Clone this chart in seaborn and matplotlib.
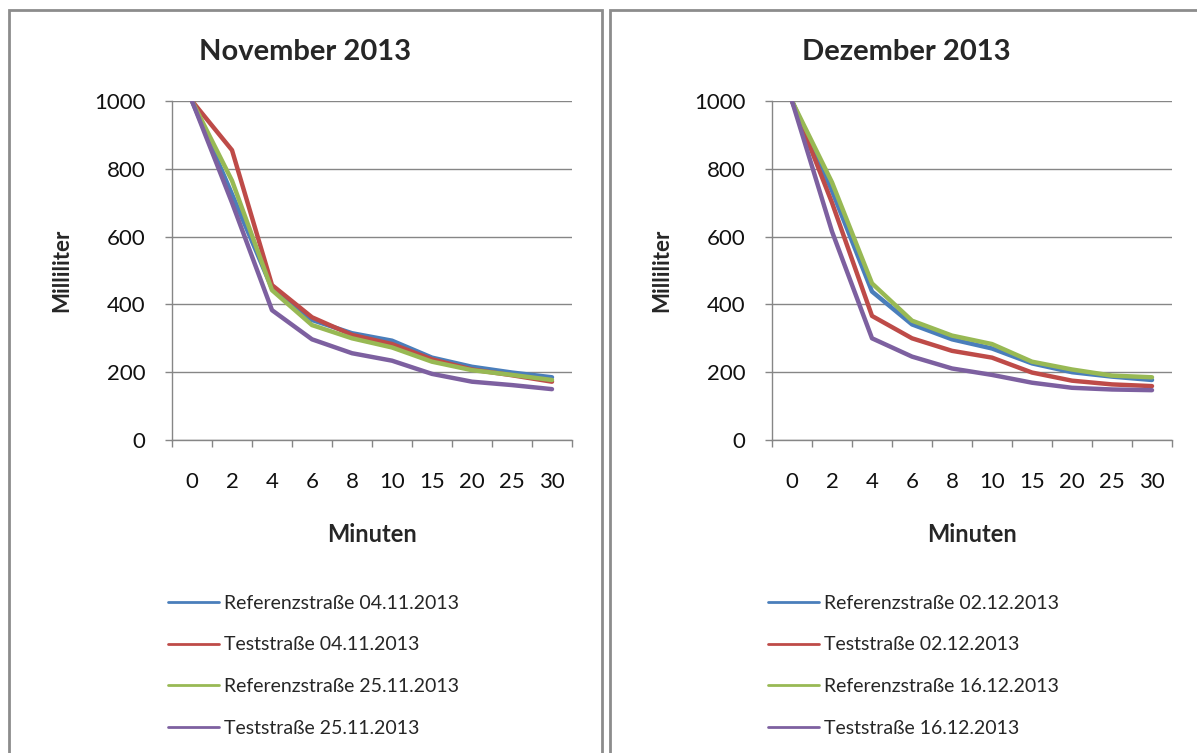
import numpy as np
import pandas as pd
import matplotlib
matplotlib.use("Agg")
import matplotlib.pyplot as plt
from matplotlib.lines import Line2D
from matplotlib.patches import Rectangle
import seaborn as sns

# --- data -------------------------------------------------------------
minutes = ["0", "2", "4", "6", "8", "10", "15", "20", "25", "30"]

nov_title = "November 2013"
nov_labels = ["Referenzstraße 04.11.2013", "Teststraße 04.11.2013",
              "Referenzstraße 25.11.2013", "Teststraße 25.11.2013"]
nov_ref_0411 = [1000, 725, 447, 354, 315, 293, 243, 216, 199, 185]
nov_test_0411 = [1000, 855, 457, 362, 310, 283, 238, 208, 191, 172]
nov_ref_2511 = [1000, 765, 442, 339, 300, 273, 231, 206, 192, 177]
nov_test_2511 = [1000, 700, 383, 297, 256, 234, 195, 172, 162, 150]

dec_title = "Dezember 2013"
dec_labels = ["Referenzstraße 02.12.2013", "Teststraße 02.12.2013",
              "Referenzstraße 16.12.2013", "Teststraße 16.12.2013"]
dec_ref_0212 = [1000, 735, 438, 341, 297, 270, 226, 200, 187, 177]
dec_test_0212 = [1000, 700, 366, 300, 263, 243, 199, 175, 164, 159]
dec_ref_1612 = [1000, 760, 462, 352, 308, 283, 231, 208, 190, 185]
dec_test_1612 = [1000, 615, 300, 246, 211, 192, 169, 154, 149, 147]

yticks = [0, 200, 400, 600, 800, 1000]
colors = ["#4A7EBB", "#BE4B48", "#98B954", "#7D60A0"]

# --- style ------------------------------------------------------------
sns.set_theme(style="white")
plt.rcParams["font.family"] = ["Lato", "DejaVu Sans"]

W, H = 1197, 753
fig = plt.figure(figsize=(W / 100, H / 100), dpi=100)
fig.patch.set_facecolor("white")

# panel frames (each chart sits in its own box)
border = "#8c8c8c"
panels = [(9, 602), (610, 1215)]
for x0, x1 in panels:
    fig.patches.append(Rectangle((x0 / W, -0.05), (x1 - x0) / W, 1.05 - 10 / H,
                                 transform=fig.transFigure, fill=False,
                                 edgecolor=border, linewidth=2.0))


def long_frame(labels, series):
    rows = []
    for lab, vals in zip(labels, series):
        for i, v in enumerate(vals):
            rows.append({"pos": i, "Milliliter": v, "Reihe": lab})
    return pd.DataFrame(rows)


def draw_panel(left_px, title_x_px, title, labels, series):
    ax = fig.add_axes([left_px / W, 1 - 440 / H, 400 / W, 339 / H])
    df = long_frame(labels, series)
    sns.lineplot(data=df, x="pos", y="Milliliter", hue="Reihe",
                 hue_order=labels, palette=colors, linewidth=3.2,
                 legend=False, ax=ax)
    ax.set_xlim(-0.5, len(minutes) - 0.5)
    ax.set_ylim(0, 1000)
    ax.set_yticks(yticks)
    ax.set_yticklabels([str(t) for t in yticks])
    ax.set_xticks(range(len(minutes)))
    ax.set_xticklabels(minutes)
    ax.set_xticks(np.arange(-0.5, len(minutes)), minor=True)
    ax.grid(axis="y", color="#868686", linewidth=1.0)
    ax.set_axisbelow(True)
    for s in ["top", "right"]:
        ax.spines[s].set_visible(False)
    for s in ["left", "bottom"]:
        ax.spines[s].set_color("#868686")
        ax.spines[s].set_linewidth(1.0)
    ax.tick_params(axis="y", which="major", left=True, length=5, width=1,
                   color="#868686", labelsize=16, pad=14, labelcolor="#111111")
    ax.tick_params(axis="x", which="major", bottom=False, length=0,
                   labelsize=16, pad=23, labelcolor="#111111")
    ax.tick_params(axis="x", which="minor", bottom=True, length=5, width=1,
                   color="#868686")
    ax.set_xlabel("Minuten", fontsize=17, fontweight="bold", labelpad=22)
    ax.set_ylabel("Milliliter", fontsize=16, fontweight="bold", labelpad=16)

    fig.text(title_x_px / W, 1 - 52 / H, title, fontsize=21,
             fontweight="bold", ha="center", va="center")

    handles = [Line2D([0], [0], color=c, linewidth=2.0) for c in colors]
    ax.legend(handles, labels, loc="upper left",
              bbox_to_anchor=((left_px - 4) / W, 1 - 595 / H),
              bbox_transform=fig.transFigure, frameon=False, fontsize=14,
              handlelength=2.6, handletextpad=0.26, labelspacing=1.26,
              borderaxespad=0, borderpad=0)
    return ax


draw_panel(172, 305, nov_title, nov_labels,
           [nov_ref_0411, nov_test_0411, nov_ref_2511, nov_test_2511])
draw_panel(772, 906, dec_title, dec_labels,
           [dec_ref_0212, dec_test_0212, dec_ref_1612, dec_test_1612])

fig.savefig("out.png", dpi=100, facecolor="white")
